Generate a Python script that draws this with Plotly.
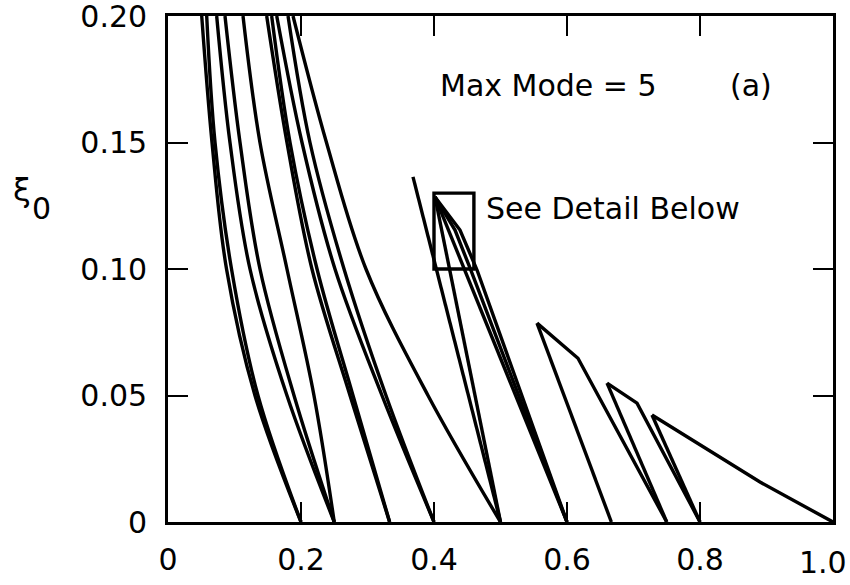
import plotly.graph_objects as go

# ---- data (x = frequency ratio, y = xi_0) ----
xi_levels = [0.2, 0.15, 0.10, 0.05, 0.0]

c1_x = [0.0507, 0.0662, 0.0880, 0.1308, 0.2]
c2_x = [0.0582, 0.0707, 0.0955, 0.1353, 0.2]
c3_x = [0.0732, 0.0932, 0.1233, 0.1789, 0.25]
c4_x = [0.0857, 0.1083, 0.1383, 0.1895, 0.25]
c5_x = [0.1128, 0.1383, 0.1789, 0.2195, 0.25]
c6_x = [0.1484, 0.1789, 0.2165, 0.2737, 0.3333]
c7_x = [0.1559, 0.1835, 0.2241, 0.2782, 0.3333]
c8_x = [0.1635, 0.2015, 0.2511, 0.3218, 0.4]
c9_x = [0.1805, 0.2135, 0.2647, 0.3278, 0.4]
c10_x = [0.1880, 0.2383, 0.2977, 0.3910, 0.5]

# straight / polygonal boundaries of the higher-order regions
l1_x = [0.3684, 0.5]
l1_y = [0.1364, 0.0]
p_to_half_x = [0.4015, 0.5]
p_to_half_y = [0.1285, 0.0]
p_to_06a_x = [0.4015, 0.6]
p_to_06a_y = [0.1285, 0.0]
p_to_06b_x = [0.4015, 0.4391, 0.4647, 0.6]
p_to_06b_y = [0.1285, 0.1154, 0.0996, 0.0]
p_to_06c_x = [0.4015, 0.4316, 0.4541, 0.6]
p_to_06c_y = [0.1285, 0.1154, 0.1004, 0.0]
a_left_x = [0.5549, 0.6667]
a_left_y = [0.0786, 0.0]
a_right_x = [0.5549, 0.6165, 0.75]
a_right_y = [0.0786, 0.0647, 0.0]
b_left_x = [0.6602, 0.75]
b_left_y = [0.0549, 0.0]
b_right_x = [0.6602, 0.7053, 0.8]
b_right_y = [0.0549, 0.0470, 0.0]
c_left_x = [0.7278, 0.8]
c_left_y = [0.0423, 0.0]
c_right_x = [0.7278, 0.8902, 1.0]
c_right_y = [0.0423, 0.0158, 0.0]

detail_box_x = [0.40, 0.46]
detail_box_y = [0.10, 0.13]

x_ticks = [0, 0.2, 0.4, 0.6, 0.8, 1.0]
x_tick_text = ["0", "0.2", "0.4", "0.6", "0.8", ""]   # "1.0" drawn as annotation (shifted left like the reference)
last_x_label = "1.0"
y_ticks = [0, 0.05, 0.10, 0.15, 0.20]
y_tick_text = ["0", "0.05", "0.10", "0.15", "0.20"]

FONT = "DejaVu Sans"
LW = 3.4
TICK_FS = 30
TEXT_FS = 30

fig = go.Figure()

curves = [c1_x, c2_x, c3_x, c4_x, c5_x, c6_x, c7_x, c8_x, c9_x, c10_x]
for xs in curves:
    fig.add_trace(go.Scatter(x=xs, y=xi_levels, mode="lines",
                             line=dict(color="black", width=LW, shape="spline", smoothing=1.0),
                             showlegend=False, hoverinfo="skip"))

polys = [(l1_x, l1_y), (p_to_half_x, p_to_half_y), (p_to_06a_x, p_to_06a_y),
         (p_to_06b_x, p_to_06b_y), (p_to_06c_x, p_to_06c_y),
         (a_left_x, a_left_y), (a_right_x, a_right_y),
         (b_left_x, b_left_y), (b_right_x, b_right_y),
         (c_left_x, c_left_y), (c_right_x, c_right_y)]
for xs, ys in polys:
    fig.add_trace(go.Scatter(x=xs, y=ys, mode="lines",
                             line=dict(color="black", width=LW),
                             showlegend=False, hoverinfo="skip"))

fig.add_shape(type="rect", xref="x", yref="y",
              x0=detail_box_x[0], x1=detail_box_x[1],
              y0=detail_box_y[0], y1=detail_box_y[1],
              line=dict(color="black", width=LW))

fig.add_annotation(x=0.406, y=0.1727, xref="x", yref="y", text="Max Mode = 5",
                   showarrow=False, xanchor="left", yanchor="middle",
                   font=dict(family=FONT, size=TEXT_FS, color="black"))
fig.add_annotation(x=0.877, y=0.1727, xref="x", yref="y", text="(a)",
                   showarrow=False, xanchor="center", yanchor="middle",
                   font=dict(family=FONT, size=TEXT_FS, color="black"))
fig.add_annotation(x=0.475, y=0.1241, xref="x", yref="y", text="See Detail Below",
                   showarrow=False, xanchor="left", yanchor="middle",
                   font=dict(family=FONT, size=TEXT_FS, color="black"))
# y-axis title  xi_0
fig.add_annotation(x=(22 - 168) / 665, y=(522 - 190) / 506, xref="paper", yref="paper",
                   text="ξ", showarrow=False, xanchor="center", yanchor="middle",
                   font=dict(family=FONT, size=32, color="black"))
fig.add_annotation(x=(41 - 168) / 665, y=(522 - 208) / 506, xref="paper", yref="paper",
                   text="0", showarrow=False, xanchor="center", yanchor="middle",
                   font=dict(family=FONT, size=30, color="black"))
# last x tick label, nudged left as in the reference
fig.add_annotation(x=(823 - 168) / 665, y=(522 - 562) / 506, xref="paper", yref="paper",
                   text=last_x_label, showarrow=False, xanchor="center", yanchor="middle",
                   font=dict(family=FONT, size=TICK_FS, color="black"))

axis_common = dict(showline=True, linecolor="black", linewidth=2.8, mirror="ticks",
                   ticks="inside", ticklen=20, tickwidth=2.2, tickcolor="black",
                   showgrid=False, zeroline=False, automargin=False,
                   ticklabeloverflow="allow",
                   tickfont=dict(family=FONT, size=TICK_FS, color="black"))

fig.update_xaxes(range=[0, 1], tickvals=x_ticks, ticktext=x_tick_text,
                 ticklabelstandoff=9, **axis_common)
fig.update_yaxes(range=[0, 0.2], tickvals=y_ticks, ticktext=y_tick_text,
                 ticklabelstandoff=12, **axis_common)

fig.update_layout(width=850, height=585, margin=dict(l=168, r=17, t=16, b=63),
                  plot_bgcolor="white", paper_bgcolor="white")

fig.write_html("out.html")
